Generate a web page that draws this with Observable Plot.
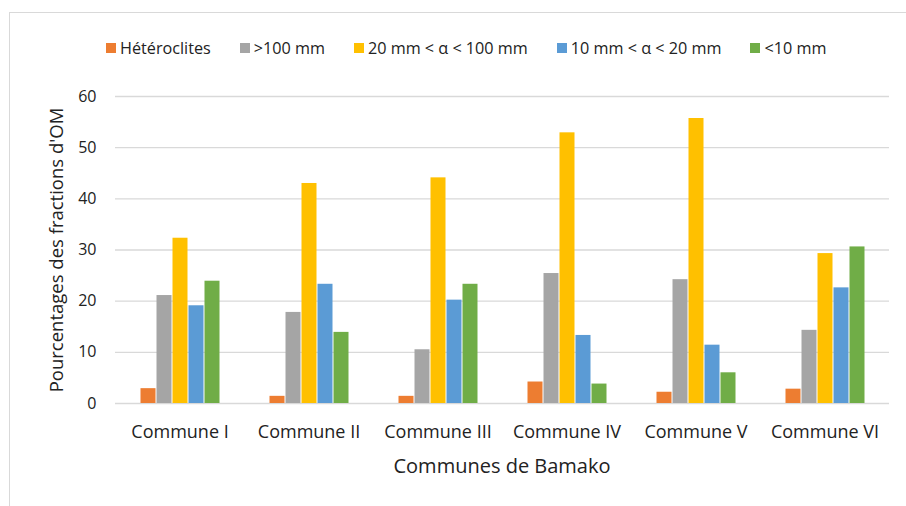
<!DOCTYPE html>
<html>
<head>
<meta charset="utf-8">
<script src="https://cdn.jsdelivr.net/npm/d3@7"></script>
<script src="https://cdn.jsdelivr.net/npm/@observablehq/plot@0.6"></script>
<style>
  html, body { margin: 0; padding: 0; background: #fff; }
  #wrap { position: relative; width: 906px; height: 506px; overflow: hidden; font-family: "Open Sans", sans-serif; color: #222; }
  #frame { position: absolute; left: 9px; top: 12px; width: 920px; height: 520px; border-left: 1px solid #d9d9d9; border-top: 1px solid #d9d9d9; }
  #legend { position: absolute; left: 106px; top: 39.5px; display: flex; align-items: center; gap: 29px; font-size: 16.2px; line-height: 16px; white-space: nowrap; }
  #legend .item { display: flex; align-items: center; }
  #legend .sw { width: 10px; height: 10px; margin-right: 4px; }
  #chart { position: absolute; left: 0; top: 70px; }
  #xtitle { position: absolute; left: 502px; top: 456px; transform: translateX(-50%); font-size: 20px; line-height: 20px; white-space: nowrap; }
  #ytitle { position: absolute; left: 56px; top: 250px; transform: translate(-50%, -50%) rotate(-90deg); font-size: 18.5px; line-height: 18.5px; white-space: nowrap; }
</style>
</head>
<body>
<div id="wrap">
  <div id="frame"></div>
  <div id="legend"></div>
  <div id="chart"></div>
  <div id="xtitle">Communes de Bamako</div>
  <div id="ytitle">Pourcentages des fractions d'OM</div>
</div>
<script>
const communes = ["Commune I", "Commune II", "Commune III", "Commune IV", "Commune V", "Commune VI"];
const series = ["Hétéroclites", ">100 mm", "20 mm < α < 100 mm", "10 mm < α < 20 mm", "<10 mm"];
const colors = ["#ED7D31", "#A5A5A5", "#FFC000", "#5B9BD5", "#70AD47"];
const heteroclites = [2.9, 1.4, 1.4, 4.2, 2.2, 2.8];
const sup100 = [21.1, 17.8, 10.5, 25.4, 24.2, 14.3];
const mm20to100 = [32.3, 43.0, 44.1, 52.9, 55.7, 29.3];
const mm10to20 = [19.1, 23.3, 20.2, 13.3, 11.4, 22.6];
const inf10 = [23.9, 13.9, 23.3, 3.8, 6.0, 30.6];
const yTicks = [0, 10, 20, 30, 40, 50, 60];

const valuesBySeries = [heteroclites, sup100, mm20to100, mm10to20, inf10];
const data = [];
communes.forEach((c, i) => {
  series.forEach((s, j) => data.push({commune: c, serie: s, value: valuesBySeries[j][i]}));
});

// Legend
const legend = document.getElementById("legend");
series.forEach((s, j) => {
  const it = document.createElement("div");
  it.className = "item";
  const sw = document.createElement("span");
  sw.className = "sw";
  sw.style.background = colors[j];
  const tx = document.createElement("span");
  tx.textContent = s;
  it.appendChild(sw); it.appendChild(tx);
  legend.appendChild(it);
});

const chart = Plot.plot({
  width: 906,
  height: 436,
  marginLeft: 113,
  marginRight: 15,
  marginTop: 26,
  marginBottom: 103,
  style: {fontFamily: "'Open Sans', sans-serif", color: "#222", background: "transparent"},
  fx: {domain: communes, padding: 0, label: null},
  x: {domain: series, paddingInner: 0, paddingOuter: 1.49, axis: null},
  y: {domain: [0, 60], label: null},
  color: {domain: series, range: colors},
  marks: [
    Plot.gridY(yTicks, {stroke: "#d9d9d9", strokeOpacity: 1, strokeWidth: 1.3}),
    Plot.barY(data, {fx: "commune", x: "serie", y: "value", fill: "serie", insetLeft: 0.5, insetRight: 0.5}),
    Plot.axisY(yTicks, {tickSize: 0, tickPadding: 19, fontSize: 16, label: null}),
    Plot.axisFx({anchor: "bottom", tickSize: 0, tickPadding: 21.5, fontSize: 18, label: null})
  ]
});
document.getElementById("chart").appendChild(chart);
</script>
</body>
</html>
